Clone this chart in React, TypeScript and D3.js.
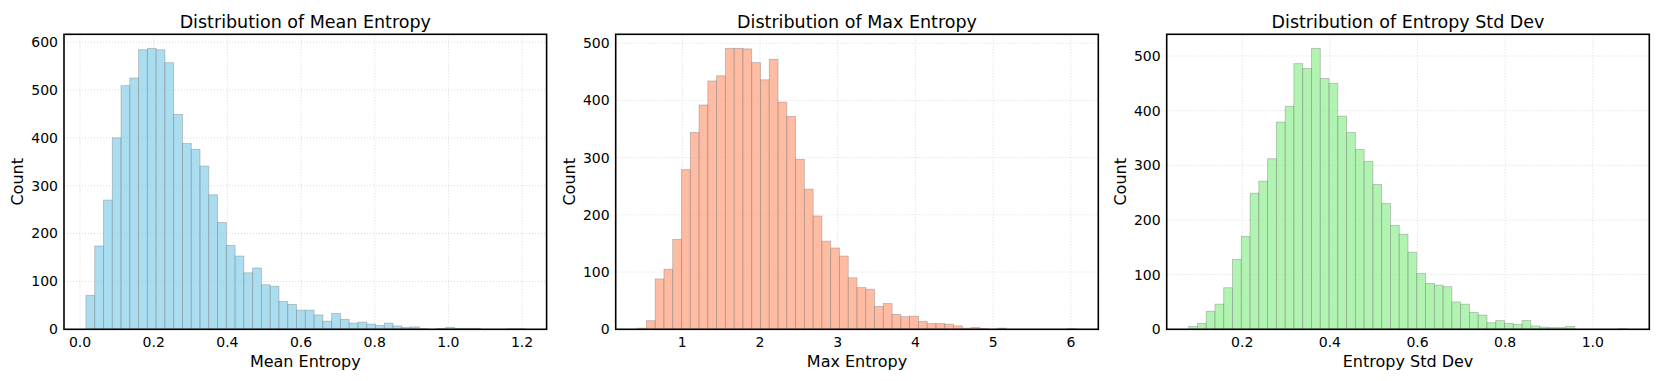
import * as d3 from 'd3';

// histogram counts (50 bins each)
const meanEntropyCounts = [71, 174, 270, 400, 509, 525, 584, 587, 584, 557, 449, 388, 376, 341, 281, 223, 175, 153, 118, 128, 93, 90, 58, 52, 40, 40, 30, 17, 33, 21, 13, 15, 11, 8, 13, 7, 4, 5, 1, 0, 2, 4, 2, 2, 2, 0, 0, 0, 1, 1];
const maxEntropyCounts = [2, 15, 88, 105, 157, 279, 344, 392, 434, 443, 491, 491, 490, 466, 436, 472, 397, 372, 297, 245, 198, 154, 142, 128, 90, 73, 70, 40, 45, 26, 22, 23, 14, 10, 10, 9, 6, 2, 3, 1, 0, 2, 0, 0, 0, 0, 0, 0, 0, 1];
const stdDevCounts = [5, 11, 33, 46, 76, 128, 170, 249, 271, 312, 379, 408, 486, 477, 514, 459, 450, 390, 360, 329, 307, 265, 230, 190, 174, 141, 102, 84, 81, 78, 50, 46, 31, 26, 12, 16, 11, 9, 16, 6, 4, 3, 3, 5, 0, 0, 0, 0, 0, 1];

// data extent of each variable
const meanEntropyRange = [0.016, 1.207];
const maxEntropyRange = [0.425, 6.071];
const stdDevRange = [0.0777, 1.0789];

const meanEntropyTicks = [0, 0.2, 0.4, 0.6, 0.8, 1.0, 1.2];
const maxEntropyTicks = [1, 2, 3, 4, 5, 6];
const stdDevTicks = [0.2, 0.4, 0.6, 0.8, 1.0];

const titles = ['Distribution of Mean Entropy', 'Distribution of Max Entropy', 'Distribution of Entropy Std Dev'];
const xLabels = ['Mean Entropy', 'Max Entropy', 'Entropy Std Dev'];

const W = 1661;
const H = 381;
const FONT = 'DejaVu Sans, sans-serif';

type PanelProps = {
  left: number;
  width: number;
  counts: number[];
  range: number[];
  xTicks: number[];
  xFmt: (v: number) => string;
  color: string;
  title: string;
  xLabel: string;
};

function Panel({ left, width, counts, range, xTicks, xFmt, color, title, xLabel }: PanelProps) {
  const top = 34.3;
  const bottom = 329.3;
  const [lo, hi] = range;
  const span = hi - lo;
  const x = d3.scaleLinear().domain([lo - 0.05 * span, hi + 0.05 * span]).range([left, left + width]);
  const yMax = d3.max(counts)! * 1.05;
  const y = d3.scaleLinear().domain([0, yMax]).range([bottom, top]);
  const yTicks = d3.range(0, yMax, 100);
  const binW = span / counts.length;

  return (
    <g>
      {/* grid */}
      {yTicks.map(t => (
        <line key={'gy' + t} x1={left} x2={left + width} y1={y(t)} y2={y(t)}
          stroke="#b0b0b0" strokeOpacity={0.6} strokeWidth={0.8} strokeDasharray="1,2" />
      ))}
      {xTicks.map(t => (
        <line key={'gx' + t} x1={x(t)} x2={x(t)} y1={top} y2={bottom}
          stroke="#b0b0b0" strokeOpacity={0.6} strokeWidth={0.8} strokeDasharray="1,2" />
      ))}
      {/* bars */}
      {counts.map((c, i) => c > 0 && (
        <rect key={i} x={x(lo + i * binW)} width={x(lo + (i + 1) * binW) - x(lo + i * binW)}
          y={y(c)} height={y(0) - y(c)}
          fill={color} fillOpacity={0.7} stroke="#808080" strokeOpacity={0.5} strokeWidth={0.8} />
      ))}
      {/* frame */}
      <rect x={left} y={top} width={width} height={bottom - top} fill="none" stroke="#000" strokeWidth={1.6} />
      {/* tick labels */}
      {yTicks.map(t => (
        <text key={'ty' + t} x={left - 6} y={y(t)} dy="0.35em" textAnchor="end" fontSize={14} fontFamily={FONT}>{t}</text>
      ))}
      {xTicks.map(t => (
        <text key={'tx' + t} x={x(t)} y={347} textAnchor="middle" fontSize={14} fontFamily={FONT}>{xFmt(t)}</text>
      ))}
      <text x={left + width / 2} y={367} textAnchor="middle" fontSize={16} fontFamily={FONT}>{xLabel}</text>
      <text transform={`translate(${left - 41},${(top + bottom) / 2}) rotate(-90)`} textAnchor="middle"
        fontSize={16} fontFamily={FONT}>Count</text>
      <text x={left + width / 2} y={28} textAnchor="middle" fontSize={17.5} fontFamily={FONT}>{title}</text>
    </g>
  );
}

export default function App() {
  const pw = 482.6;
  const f1 = d3.format('.1f');
  const fInt = d3.format('d');
  return (
    <svg width={W} height={H} style={{ position: 'absolute', left: 0, top: 0, background: '#fff' }}>
      <Panel left={64} width={pw} counts={meanEntropyCounts} range={meanEntropyRange} xTicks={meanEntropyTicks}
        xFmt={f1} color="#87CEEB" title={titles[0]} xLabel={xLabels[0]} />
      <Panel left={615.7} width={pw} counts={maxEntropyCounts} range={maxEntropyRange} xTicks={maxEntropyTicks}
        xFmt={fInt} color="#FFA07A" title={titles[1]} xLabel={xLabels[1]} />
      <Panel left={1166.7} width={pw} counts={stdDevCounts} range={stdDevRange} xTicks={stdDevTicks}
        xFmt={f1} color="#90EE90" title={titles[2]} xLabel={xLabels[2]} />
    </svg>
  );
}
